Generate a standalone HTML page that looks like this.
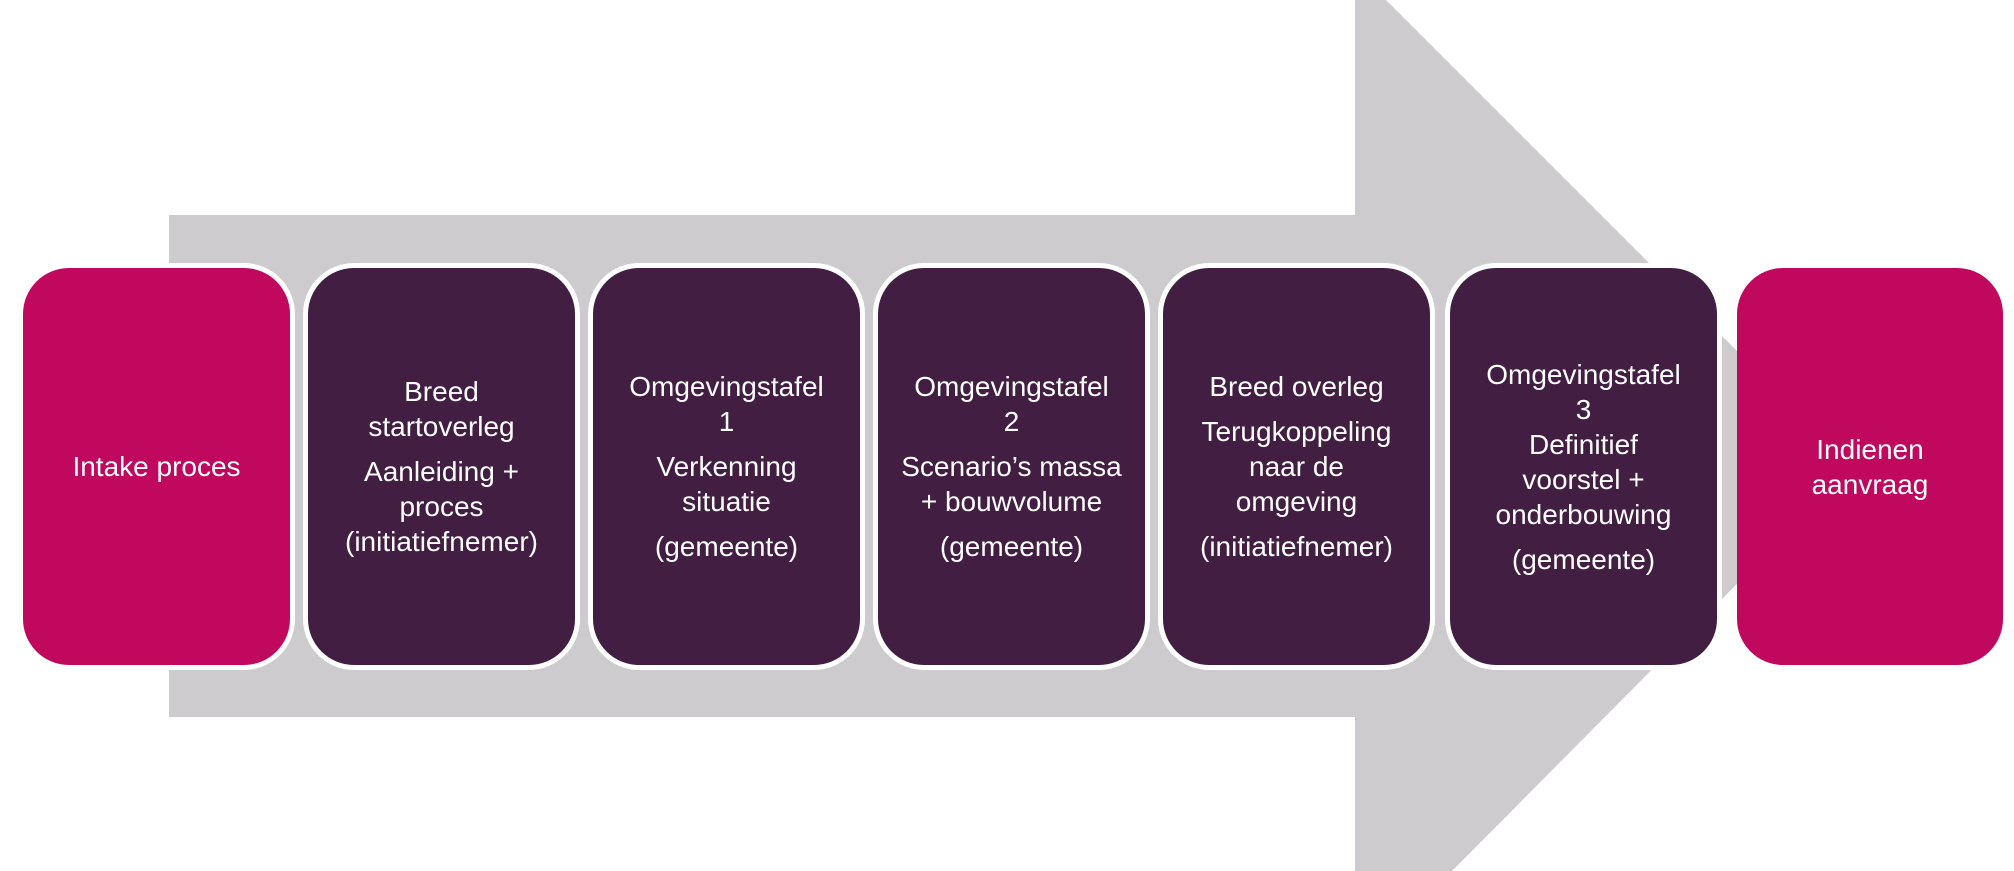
<!DOCTYPE html>
<html><head><meta charset="utf-8"><style>
html,body{margin:0;padding:0;background:#fff;}
body{width:2014px;height:871px;position:relative;overflow:hidden;font-family:"Liberation Sans",sans-serif;}
svg{position:absolute;left:0;top:0;}
.b{position:absolute;top:268px;width:267px;height:397px;border-radius:46px;color:#fff;display:flex;flex-direction:column;justify-content:center;align-items:center;text-align:center;font-size:28px;line-height:35px;box-sizing:border-box;padding:0 4px;}
.d{background:#421e42;box-shadow:0 0 0 5px #fff;}
.m{background:#c0085f;}
.b p{margin:5px 0;}
</style></head><body>
<svg width="2014" height="871"><polygon points="169,215 1355,215 1355,-40 1386,0 1853,467 1452,871 1355,871 1355,717 169,717" fill="#cdcbce"/></svg>
<div class="b m" style="left:23px;box-shadow:0 0 0 5px #fff;"><p>Intake proces</p></div>
<div class="b d" style="left:308px"><p>Breed<br>startoverleg</p><p>Aanleiding +<br>proces<br>(initiatiefnemer)</p></div>
<div class="b d" style="left:593px"><p>Omgevingstafel<br>1</p><p>Verkenning<br>situatie</p><p>(gemeente)</p></div>
<div class="b d" style="left:878px"><p>Omgevingstafel<br>2</p><p>Scenario’s massa<br>+ bouwvolume</p><p>(gemeente)</p></div>
<div class="b d" style="left:1163px"><p>Breed overleg</p><p>Terugkoppeling<br>naar de<br>omgeving</p><p>(initiatiefnemer)</p></div>
<div class="b d" style="left:1450px"><p>Omgevingstafel<br>3<br>Definitief<br>voorstel +<br>onderbouwing</p><p>(gemeente)</p></div>
<div class="b m" style="left:1737px;width:266px"><p>Indienen<br>aanvraag</p></div>
</body></html>
